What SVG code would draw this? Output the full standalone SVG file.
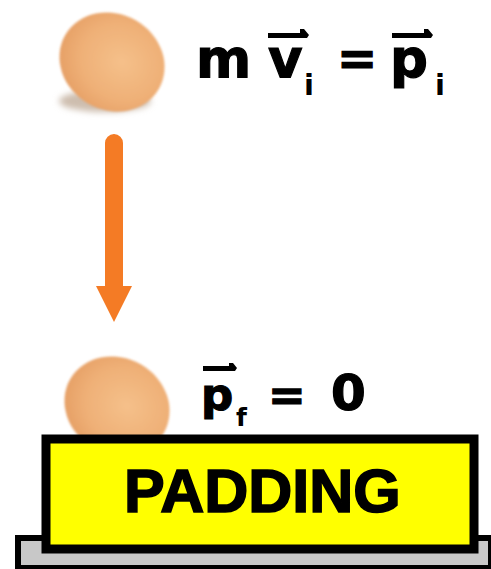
<svg xmlns="http://www.w3.org/2000/svg" width="491" height="569" viewBox="0 0 491 569">
  <style>
    .eq { font-family: "DejaVu Sans", Verdana, sans-serif; font-weight: bold; fill: #000; stroke: #000; stroke-width: 1.2; }
    .sub { font-family: "DejaVu Sans", Verdana, sans-serif; font-weight: bold; fill: #000; }
    .label { font-family: "Liberation Sans", Arial, sans-serif; font-weight: bold; fill: #000; stroke: #000; stroke-width: 1.6; }
    .vec { fill: #000; }
  </style>
  <defs>
    <radialGradient id="shell" cx="0.58" cy="0.45" r="0.6">
      <stop offset="0" stop-color="#f5c08a"/>
      <stop offset="0.65" stop-color="#efb077"/>
      <stop offset="1" stop-color="#e6a066"/>
    </radialGradient>
    <filter id="soft" x="-30%" y="-50%" width="160%" height="200%">
      <feGaussianBlur stdDeviation="3"/>
    </filter>
    <filter id="edge" x="-10%" y="-10%" width="120%" height="120%">
      <feGaussianBlur stdDeviation="1.2"/>
    </filter>
  </defs>

  <rect width="491" height="569" fill="#fff"/>

  <!-- egg before the fall -->
  <g id="egg-top">
    <ellipse cx="105" cy="101" rx="46" ry="11" fill="#cdbdae" filter="url(#soft)"/>
    <ellipse cx="112" cy="62" rx="54" ry="48" transform="rotate(30 112 62)" fill="url(#shell)" filter="url(#edge)"/>
  </g>

  <!-- momentum before impact -->
  <g id="label-top">
    <text class="eq" x="196" y="77" font-size="53">m</text>
    <text class="eq" x="268" y="77" font-size="53">v</text>
    <text class="sub" x="304" y="95" font-size="29">i</text>
    <path class="vec" d="M268 33 h32 v-4 l4 0 l5 6 l-2 3 h-39 z"/>
    <text class="eq" x="337" y="75" font-size="48">=</text>
    <text class="eq" x="390" y="77" font-size="53">p</text>
    <text class="sub" x="435" y="95" font-size="29">i</text>
    <path class="vec" d="M392 33 h32 v-4 l4 0 l5 6 l-2 3 h-39 z"/>
  </g>

  <!-- fall direction -->
  <g id="connectors">
    <path d="M105 143 a9 9 0 0 1 18 0 V286 h9 l-18 36 l-18 -36 h9 z" fill="#f47b25"/>
  </g>

  <!-- egg resting on the padding -->
  <g id="egg-bottom">
    <ellipse cx="117" cy="406" rx="54" ry="48" transform="rotate(30 117 406)" fill="url(#shell)" filter="url(#edge)"/>
  </g>

  <!-- momentum after impact -->
  <g id="label-bottom">
    <text class="eq" x="201" y="410" font-size="45">p</text>
    <text class="sub" x="236" y="426" font-size="25">f</text>
    <path class="vec" d="M203 366 h26 v-3 l4 0 l4 5 l-2 3 h-32 z"/>
    <text class="eq" x="268" y="410" font-size="45">=</text>
    <text class="eq" x="331" y="410" font-size="50">0</text>
  </g>

  <!-- padding on its base -->
  <g id="padding">
    <rect x="18" y="538" width="473" height="30" fill="#c8c8c8" stroke="#000" stroke-width="6"/>
    <rect x="46" y="439" width="428" height="110" fill="#ffff00" stroke="#000" stroke-width="9"/>
    <text class="label" x="124" y="512" font-size="61">PADDING</text>
  </g>
</svg>
